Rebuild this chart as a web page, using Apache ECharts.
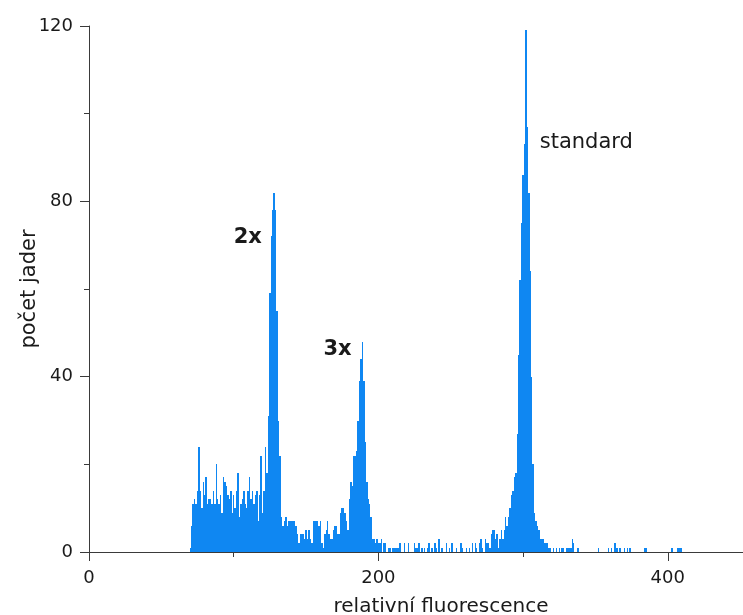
<!DOCTYPE html>
<html>
<head>
<meta charset="utf-8">
<script src="https://cdn.jsdelivr.net/npm/echarts@6/dist/echarts.min.js"></script>
<style>
  html, body { margin: 0; padding: 0; background: #fff; }
  #chart { width: 743px; height: 615px; }
</style>
</head>
<body>
<div id="chart"></div>
<script>
// DNA content histogram (flow cytometry): nuclei count per fluorescence channel.

// Debris / background, channels 70..122
const debrisStart = 70;
const debrisCounts = [1, 6, 11, 12, 11, 14, 24, 14, 10, 16, 13, 17, 11, 12, 12, 11, 14, 11, 20, 12,
  11, 13, 9, 17, 16, 15, 13, 12, 14, 9, 13, 10, 14, 18, 8, 11, 12, 14, 11, 10,
  14, 17, 12, 14, 11, 13, 14, 7, 13, 22, 9, 14, 24];

// 2x peak, channels 123..135
const peak2xStart = 123;
const peak2xCounts = [18, 31, 59, 72, 78, 82, 78, 55, 30, 22, 8, 6, 7];

// Valley between the 2x and 3x peaks, channels 136..179
const valleyStart = 136;
const valleyCounts = [8, 6, 7, 7, 7, 7, 7, 6, 4, 2, 4, 4, 4, 3, 5, 3, 5, 3, 2, 7,
  7, 7, 7, 6, 7, 2, 1, 4, 5, 7, 4, 3, 3, 5, 6, 6, 4, 4, 9, 10,
  10, 9, 7, 5];

// 3x peak, channels 180..199
const peak3xStart = 180;
const peak3xCounts = [12, 16, 15, 22, 22, 23, 30, 39, 44, 48, 39, 25, 16, 12, 11, 8, 3, 3, 2, 3];

// Low plateau, channels 200..283
const plateauStart = 200;
const plateauCounts = [2, 2, 3, 0, 2, 2, 0, 1, 1, 0, 1, 1, 1, 1, 1, 2, 0, 0, 2, 0,
  0, 2, 0, 0, 0, 2, 1, 1, 2, 0, 1, 0, 1, 0, 1, 2, 0, 1, 0, 2,
  1, 0, 3, 0, 1, 0, 0, 2, 0, 1, 0, 2, 0, 0, 1, 0, 0, 2, 1, 0,
  0, 1, 0, 1, 0, 2, 0, 2, 1, 0, 2, 3, 1, 0, 3, 2, 2, 1, 4, 5,
  5, 3, 4, 1];

// Internal standard peak, channels 284..317
const standardStart = 284;
const standardCounts = [3, 5, 3, 5, 8, 6, 8, 10, 13, 14, 17, 18, 27, 45, 62, 75, 86, 93, 119, 97,
  82, 64, 40, 20, 9, 7, 6, 5, 3, 3, 3, 2, 2, 2];

// Sparse tail: [channel, count]
const tailCounts = [[318, 1], [319, 1], [321, 1], [323, 1], [325, 1], [327, 1], [328, 1],
  [330, 1], [331, 1], [332, 1], [333, 1], [334, 3], [335, 2], [338, 1], [352, 1],
  [359, 1], [361, 1], [363, 2], [364, 2], [365, 1], [367, 1], [370, 1], [372, 1],
  [374, 1], [384, 1], [385, 1], [403, 1], [407, 1], [408, 1], [409, 1]];

// Axis ticks
const xLabelTicks = [0, 200, 400];
const xMinorTicks = [100, 300];
const yLabelTicks = [0, 40, 80, 120];

// Peak annotations: text, channel, count (left-middle anchor), bold
const annotations = [
  ['2x', 100, 71.8, true],
  ['3x', 162, 46.1, true],
  ['standard', 311.5, 93.5, false]
];

const segments = [
  [debrisStart, debrisCounts],
  [peak2xStart, peak2xCounts],
  [valleyStart, valleyCounts],
  [peak3xStart, peak3xCounts],
  [plateauStart, plateauCounts],
  [standardStart, standardCounts]
];

const histogram = [];
segments.forEach(([start, counts]) => {
  counts.forEach((v, i) => { if (v > 0) histogram.push([start + i, v]); });
});
tailCounts.forEach(p => histogram.push(p));

const FONT = 'DejaVu Sans';
const AXIS_COLOR = '#3a3a3a';
const TEXT_COLOR = '#1a1a1a';
const BAR_COLOR = '#0f87f2';

// One rectangle per channel, spanning [channel - 0.5, channel + 0.5];
// edges snapped to whole pixels so neighbouring channels meet without seams.
function renderChannel(params, api) {
  const ch = api.value(0);
  const count = api.value(1);
  const topLeft = api.coord([ch - 0.5, count]);
  const bottomRight = api.coord([ch + 0.5, 0]);
  const x0 = Math.round(topLeft[0]);
  const x1 = Math.max(Math.round(bottomRight[0]), x0 + 1);
  const y0 = Math.round(topLeft[1]);
  const y1 = Math.round(bottomRight[1]);
  return {
    type: 'rect',
    shape: { x: x0, y: y0, width: x1 - x0, height: y1 - y0 },
    style: { fill: BAR_COLOR }
  };
}

const chart = echarts.init(document.getElementById('chart'), null, { renderer: 'canvas' });

chart.setOption({
  animation: false,
  backgroundColor: '#fff',
  grid: {
    left: 89, right: 0, top: 26, bottom: 63,
    containLabel: false, outerBoundsMode: 'none'
  },
  xAxis: [{
    type: 'value',
    min: 0, max: 452,
    interval: 200,
    splitLine: { show: false },
    axisLine: { show: true, onZero: false, lineStyle: { color: AXIS_COLOR, width: 1 } },
    axisTick: { show: true, length: 9, customValues: xLabelTicks, lineStyle: { color: AXIS_COLOR } },
    axisLabel: {
      show: true, customValues: xLabelTicks, margin: 17,
      fontFamily: FONT, fontSize: 18, color: TEXT_COLOR
    },
    name: 'relativní fluorescence',
    nameLocation: 'middle',
    nameGap: 45,
    nameMoveOverlap: false,
    nameTextStyle: { fontFamily: FONT, fontSize: 20, color: TEXT_COLOR, padding: [0, 0, 0, 50] }
  }, {
    // short ticks at the odd hundreds
    type: 'value',
    min: 0, max: 452,
    position: 'bottom',
    gridIndex: 0,
    splitLine: { show: false },
    axisLine: { show: false },
    axisTick: { show: true, length: 5, customValues: xMinorTicks, lineStyle: { color: AXIS_COLOR } },
    axisLabel: { show: false }
  }],
  yAxis: {
    type: 'value',
    min: 0, max: 120,
    interval: 40,
    splitLine: { show: false },
    axisLine: { show: true, onZero: false, lineStyle: { color: AXIS_COLOR, width: 1 } },
    axisTick: { show: true, length: 9, lineStyle: { color: AXIS_COLOR } },
    minorTick: { show: true, splitNumber: 2, length: 5, lineStyle: { color: AXIS_COLOR } },
    minorSplitLine: { show: false },
    axisLabel: {
      show: true, margin: 16, customValues: yLabelTicks,
      fontFamily: FONT, fontSize: 18, color: TEXT_COLOR
    },
    name: 'počet jader',
    nameLocation: 'middle',
    nameGap: 49,
    nameMoveOverlap: false,
    nameTextStyle: { fontFamily: FONT, fontSize: 21, color: TEXT_COLOR }
  },
  series: [{
    type: 'custom',
    xAxisIndex: 0,
    data: histogram,
    renderItem: renderChannel,
    encode: { x: 0, y: 1 },
    silent: true
  }, {
    type: 'scatter',
    xAxisIndex: 0,
    symbolSize: 0,
    silent: true,
    data: annotations.map(a => ({
      value: [a[1], a[2]],
      name: a[0],
      label: {
        fontWeight: a[3] ? 'bold' : 'normal',
        fontSize: 21,
        color: TEXT_COLOR,
        opacity: 1
      }
    })),
    label: {
      show: true,
      position: 'right',
      distance: 0,
      formatter: p => p.name,
      fontFamily: FONT,
      color: TEXT_COLOR,
      opacity: 1
    },
    itemStyle: { color: TEXT_COLOR, opacity: 1 }
  }]
});
</script>
</body>
</html>
